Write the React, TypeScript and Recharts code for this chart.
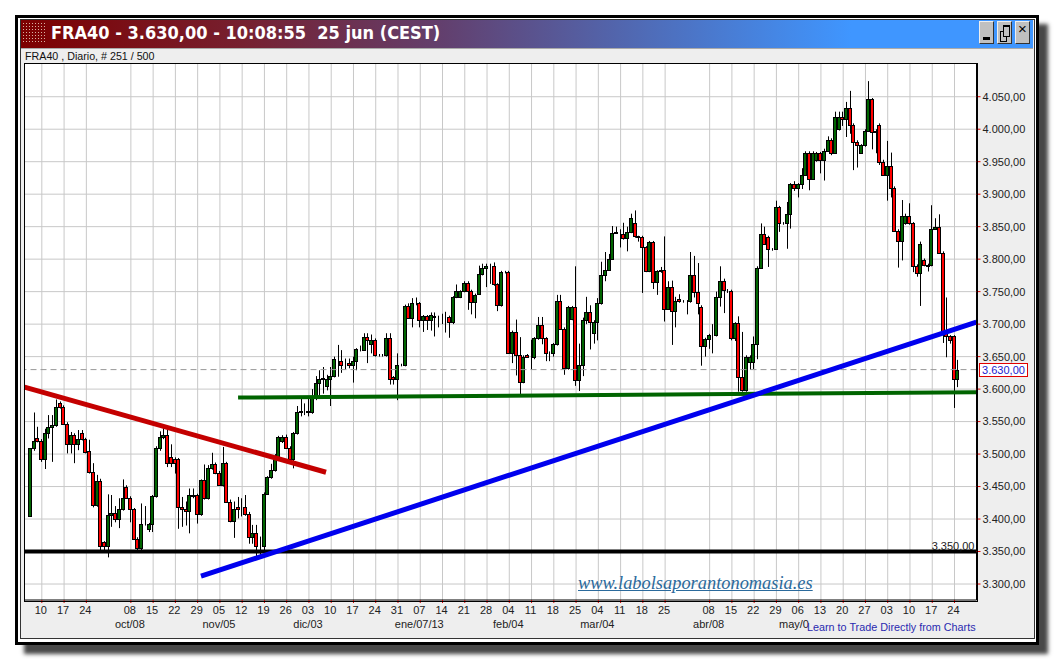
import { Bar, CartesianGrid, ComposedChart, ReferenceLine, XAxis, YAxis } from "recharts";

const opens = [
  3404, 3509, 3524, 3520, 3492, 3532, 3542, 3544, 3578, 3572,
  3547, 3515, 3530, 3516, 3533, 3523, 3504, 3473, 3421, 3458,
  3364, 3358, 3406, 3410, 3400, 3415, 3449, 3433, 3415, 3370,
  3356, 3392, 3385, 3392, 3435, 3510, 3526, 3530, 3496, 3492,
  3492, 3418, 3415, 3412, 3437, 3437, 3407, 3460, 3432, 3478,
  3485, 3471, 3453, 3486, 3427, 3397, 3418, 3418, 3418, 3407,
  3372, 3378, 3358, 3358, 3439, 3464, 3475, 3495, 3520, 3526,
  3510, 3492, 3532, 3564, 3566, 3566, 3564, 3589, 3609, 3615,
  3604, 3616, 3620, 3646, 3644, 3637, 3640, 3637, 3644, 3661,
  3660, 3680, 3669, 3676, 3652, 3652, 3652, 3679, 3618, 3616,
  3637, 3637, 3728, 3710, 3732, 3732, 3707, 3712, 3707, 3713,
  3711, 3711, 3711, 3711, 3704, 3741, 3741, 3751, 3764, 3751,
  3734, 3747, 3777, 3787, 3789, 3790, 3761, 3729, 3780, 3780,
  3656, 3688, 3652, 3611, 3652, 3650, 3649, 3678, 3698, 3678,
  3655, 3655, 3669, 3735, 3693, 3632, 3708, 3726, 3614, 3637,
  3707, 3718, 3687, 3704, 3732, 3775, 3784, 3801, 3841, 3841,
  3838, 3832, 3842, 3855, 3835, 3834, 3818, 3782, 3826, 3765,
  3781, 3784, 3724, 3757, 3720, 3738, 3735, 3735, 3735, 3775,
  3750, 3727, 3667, 3677, 3683, 3683, 3741, 3767, 3751, 3751,
  3678, 3701, 3618, 3598, 3642, 3642, 3669, 3787, 3838, 3834,
  3815, 3816, 3880, 3855, 3855, 3870, 3915, 3909, 3915, 3930,
  3964, 3924, 3953, 3963, 3952, 3967, 3984, 3964, 4000, 4019,
  4015, 4032, 4007, 3981, 3964, 3975, 3998, 4046, 3998, 4007,
  3949, 3930, 3944, 3910, 3844, 3828, 3855, 3867, 3855, 3790,
  3779, 3799, 3791, 3791, 3847, 3850, 3810, 3688, 3681, 3681,
  3615,
];

const closes = [
  3509, 3520, 3520, 3492, 3532, 3542, 3544, 3572, 3572, 3547,
  3515, 3530, 3516, 3523, 3523, 3503, 3473, 3421, 3458, 3358,
  3358, 3406, 3410, 3400, 3415, 3433, 3433, 3415, 3370, 3356,
  3392, 3392, 3392, 3435, 3510, 3526, 3530, 3486, 3486, 3486,
  3418, 3415, 3412, 3437, 3436, 3407, 3460, 3432, 3478, 3485,
  3471, 3453, 3486, 3427, 3397, 3416, 3416, 3418, 3407, 3372,
  3378, 3358, 3358, 3439, 3464, 3475, 3495, 3526, 3526, 3510,
  3492, 3532, 3564, 3566, 3566, 3564, 3588, 3609, 3615, 3617,
  3616, 3620, 3646, 3646, 3637, 3637, 3637, 3644, 3661, 3661,
  3680, 3676, 3676, 3652, 3652, 3652, 3679, 3616, 3616, 3637,
  3637, 3728, 3710, 3732, 3732, 3707, 3712, 3707, 3714, 3711,
  3711, 3711, 3711, 3704, 3741, 3751, 3751, 3764, 3751, 3734,
  3745, 3777, 3787, 3790, 3790, 3761, 3729, 3780, 3780, 3656,
  3688, 3652, 3611, 3650, 3650, 3650, 3678, 3698, 3678, 3655,
  3655, 3669, 3735, 3693, 3632, 3726, 3726, 3614, 3637, 3707,
  3718, 3704, 3704, 3732, 3775, 3784, 3801, 3841, 3842, 3840,
  3832, 3842, 3863, 3835, 3834, 3818, 3782, 3826, 3765, 3781,
  3784, 3724, 3757, 3720, 3735, 3735, 3735, 3735, 3775, 3750,
  3732, 3667, 3677, 3683, 3683, 3741, 3767, 3752, 3751, 3678,
  3701, 3618, 3598, 3650, 3650, 3669, 3787, 3838, 3824, 3815,
  3815, 3880, 3855, 3855, 3870, 3915, 3909, 3915, 3930, 3964,
  3924, 3963, 3963, 3952, 3967, 3984, 3964, 4019, 4019, 4015,
  4032, 4007, 3981, 3975, 3975, 3998, 4046, 3995, 3995, 3949,
  3930, 3944, 3910, 3844, 3828, 3867, 3867, 3855, 3790, 3779,
  3824, 3791, 3790, 3847, 3849, 3810, 3688, 3681, 3676, 3615,
  3630,
];

const highs = [
  3509, 3564, 3542, 3523, 3539, 3560, 3560, 3584, 3581, 3575,
  3549, 3534, 3532, 3537, 3537, 3525, 3522, 3486, 3468, 3462,
  3366, 3438, 3437, 3420, 3432, 3461, 3452, 3435, 3417, 3372,
  3424, 3420, 3394, 3437, 3512, 3535, 3541, 3541, 3515, 3495,
  3494, 3434, 3427, 3447, 3447, 3439, 3461, 3484, 3483, 3502,
  3487, 3474, 3511, 3488, 3430, 3427, 3434, 3432, 3437, 3411,
  3391, 3391, 3373, 3441, 3466, 3485, 3500, 3528, 3529, 3530,
  3512, 3534, 3574, 3586, 3578, 3585, 3600, 3620, 3629, 3634,
  3622, 3634, 3650, 3668, 3660, 3647, 3647, 3650, 3663, 3667,
  3686, 3686, 3684, 3678, 3654, 3654, 3686, 3686, 3620, 3655,
  3639, 3730, 3732, 3740, 3741, 3734, 3714, 3714, 3718, 3718,
  3713, 3716, 3719, 3713, 3743, 3761, 3752, 3766, 3766, 3753,
  3747, 3790, 3793, 3793, 3793, 3795, 3763, 3782, 3782, 3782,
  3690, 3707, 3680, 3652, 3654, 3676, 3680, 3711, 3711, 3680,
  3658, 3671, 3745, 3745, 3695, 3728, 3728, 3789, 3670, 3710,
  3742, 3729, 3706, 3740, 3796, 3811, 3808, 3851, 3850, 3846,
  3856, 3850, 3870, 3875, 3836, 3836, 3820, 3828, 3828, 3783,
  3788, 3835, 3766, 3767, 3742, 3746, 3737, 3737, 3811, 3805,
  3794, 3729, 3679, 3685, 3700, 3750, 3789, 3770, 3754, 3753,
  3703, 3712, 3688, 3652, 3652, 3681, 3789, 3855, 3850, 3836,
  3817, 3890, 3882, 3857, 3888, 3917, 3920, 3917, 3940, 3966,
  3966, 3966, 3965, 3965, 3970, 3989, 3986, 4027, 4027, 4027,
  4042, 4059, 4009, 3983, 3977, 4000, 4074, 4048, 4000, 4009,
  3953, 3982, 3964, 3912, 3846, 3891, 3870, 3886, 3857, 3792,
  3827, 3801, 3793, 3883, 3863, 3869, 3812, 3741, 3683, 3683,
  3645,
];

const lows = [
  3404, 3505, 3518, 3488, 3477, 3524, 3488, 3542, 3570, 3545,
  3501, 3501, 3486, 3506, 3521, 3501, 3470, 3418, 3419, 3350,
  3350, 3341, 3388, 3395, 3386, 3413, 3431, 3395, 3368, 3348,
  3348, 3390, 3380, 3380, 3433, 3505, 3523, 3480, 3480, 3470,
  3385, 3388, 3390, 3378, 3432, 3393, 3405, 3430, 3430, 3476,
  3469, 3451, 3450, 3425, 3395, 3371, 3401, 3404, 3405, 3362,
  3362, 3338, 3344, 3350, 3437, 3462, 3473, 3493, 3517, 3508,
  3490, 3478, 3530, 3558, 3560, 3558, 3562, 3583, 3590, 3593,
  3598, 3574, 3618, 3619, 3625, 3630, 3632, 3610, 3629, 3658,
  3659, 3640, 3655, 3650, 3650, 3650, 3650, 3607, 3607, 3583,
  3635, 3635, 3708, 3695, 3729, 3695, 3688, 3691, 3690, 3681,
  3695, 3700, 3687, 3679, 3700, 3740, 3740, 3749, 3722, 3715,
  3709, 3745, 3775, 3757, 3762, 3759, 3720, 3727, 3778, 3654,
  3640, 3621, 3588, 3609, 3648, 3630, 3646, 3676, 3669, 3643,
  3643, 3650, 3667, 3691, 3622, 3630, 3706, 3605, 3597, 3620,
  3700, 3661, 3670, 3675, 3730, 3766, 3782, 3799, 3839, 3818,
  3830, 3812, 3840, 3833, 3827, 3748, 3780, 3780, 3754, 3745,
  3779, 3704, 3722, 3668, 3695, 3733, 3733, 3715, 3733, 3741,
  3715, 3636, 3650, 3662, 3655, 3681, 3727, 3717, 3748, 3675,
  3674, 3596, 3596, 3596, 3630, 3631, 3646, 3785, 3822, 3788,
  3813, 3815, 3842, 3853, 3816, 3847, 3905, 3895, 3908, 3928,
  3906, 3922, 3950, 3932, 3921, 3965, 3960, 3962, 3998, 4005,
  3988, 3993, 3937, 3941, 3962, 3973, 3996, 3969, 3963, 3945,
  3928, 3890, 3895, 3842, 3787, 3798, 3853, 3853, 3780, 3773,
  3728, 3789, 3781, 3789, 3845, 3808, 3671, 3649, 3670, 3571,
  3603,
];

const candles = opens.map((open, index) => ({
  index,
  open,
  close: closes[index],
  high: highs[index],
  low: lows[index],
}));

// gaps in the date axis: one week is missing after 24 and after 25
const dayTicks = [
  3, 9, 15, 27, 33, 39, 45, 51, 57, 63, 69, 75, 81, 87, 93, 99, 105, 111, 117, 123, 129,
  135, 141, 147, 153, 159, 165, 171, 183, 189, 195, 201, 207, 213, 219, 225, 231, 237, 243, 249,
];
const dayLabels = [
  "10", "17", "24", "08", "15", "22", "29", "05", "12", "19", "26", "03", "10", "17", "24", "31",
  "07", "14", "21", "28", "04", "11", "18", "25", "04", "11", "18", "25", "08", "15", "22", "29",
  "06", "13", "20", "27", "03", "10", "17", "24",
];
const monthTicks = [27, 51, 75, 105, 129, 153, 183, 206];
const monthLabels = ["oct/08", "nov/05", "dic/03", "ene/07/13", "feb/04", "mar/04", "abr/08", "may/0"];
const priceTicks = [
  3300, 3350, 3400, 3450, 3500, 3550, 3600, 3650, 3700, 3750, 3800, 3850, 3900, 3950, 4000, 4050,
];

const lastPrice = 3630;
const supportPrice = 3350;
const redTrend = [{ x: -1.67, y: 3603 }, { x: 79.6, y: 3472 }];
const greenTrend = [{ x: 55.9, y: 3587 }, { x: 254.9, y: 3595 }];
const blueTrend = [{ x: 45.9, y: 3312 }, { x: 254.9, y: 3703 }];

const textFont = '"Liberation Sans", Arial, sans-serif';

function formatPrice(value: number) {
  const text = String(Math.round(value));
  return `${text[0]}.${text.slice(1)},00`;
}

function Candle(props: any) {
  const { x, width, y, height, payload } = props;
  const { open, close, high, low } = payload;
  const perUnit = height / (high - low || 1);
  const mid = Math.floor(x + width / 2) + 0.5;
  const bodyTop = Math.round(y + (high - Math.max(open, close)) * perUnit) + 0.5;
  const bodyBottom = Math.round(y + (high - Math.min(open, close)) * perUnit) + 0.5;
  return (
    <g>
      <line x1={mid} x2={mid} y1={y} y2={y + height} stroke="#000" strokeWidth={1} />
      <rect
        x={mid - 2}
        y={bodyTop}
        width={3}
        height={bodyBottom - bodyTop}
        fill={close >= open ? "#006400" : "#ff0000"}
        stroke="#000"
        strokeWidth={1}
      />
    </g>
  );
}

const windowButton = {
  position: "absolute" as const,
  top: 21,
  width: 15,
  height: 23,
  background: "#c0c0c0",
  borderTop: "1px solid #eee",
  borderLeft: "1px solid #eee",
  borderRight: "1px solid #333",
  borderBottom: "1px solid #333",
  boxSizing: "border-box" as const,
  color: "#000",
  fontFamily: textFont,
  fontSize: 15,
  lineHeight: "14px",
  textAlign: "center" as const,
};

export default function App() {
  return (
    <div style={{ position: "absolute", left: 0, top: 0, width: 1055, height: 659, background: "#fff", overflow: "hidden" }}>
      {/* window frame */}
      <div
        style={{
          position: "absolute",
          left: 15,
          top: 15,
          width: 1024,
          height: 630,
          boxSizing: "border-box",
          border: "3px solid #000",
          boxShadow: "9px 9px 4px rgba(40,40,40,0.85)",
          background: "#fff",
        }}
      />
      <div
        style={{
          position: "absolute",
          left: 20,
          top: 19,
          width: 1015,
          height: 620,
          boxSizing: "border-box",
          border: "1px solid #333",
          background: "#eeeeee",
        }}
      />
      <div
        style={{
          position: "absolute",
          left: 21,
          top: 20,
          width: 1012,
          height: 28,
          background: "linear-gradient(90deg, #7d0000 0%, #762030 22%, #62406f 42%, #4f6cb8 62%, #3f96ff 82%)",
          borderBottom: "1px solid #aaa",
        }}
      />
      <div
        style={{
          position: "absolute",
          left: 22,
          top: 22,
          width: 25,
          height: 22,
          backgroundImage: "radial-gradient(circle, #d8b0a0 1px, transparent 1px)",
          backgroundSize: "3px 3px",
        }}
      />
      <div
        style={{
          position: "absolute",
          left: 51,
          top: 21,
          color: "#fff",
          fontFamily: '"DejaVu Sans Condensed", "DejaVu Sans", sans-serif',
          fontWeight: 700,
          fontSize: 18,
          lineHeight: "24px",
          whiteSpace: "pre",
        }}
      >
        {"FRA40 - 3.630,00 - 10:08:55  25 jun (CEST)"}
      </div>
      <div style={{ ...windowButton, left: 979 }}>
        <div style={{ position: "absolute", left: 3, top: 15, width: 7, height: 3, background: "#000" }} />
      </div>
      <div style={{ ...windowButton, left: 997 }}>
        <div style={{ position: "absolute", left: 2, top: 9, width: 5, height: 9, border: "1px solid #000", background: "#c0c0c0" }} />
        <div style={{ position: "absolute", left: 5, top: 3, width: 5, height: 9, border: "1px solid #000", borderTopWidth: 2, background: "#c0c0c0" }} />
      </div>
      <div style={{ ...windowButton, left: 1015 }}>×</div>
      <div
        style={{
          position: "absolute",
          left: 25,
          top: 50,
          fontFamily: textFont,
          fontSize: 10.7,
          lineHeight: "13px",
          color: "#111",
          whiteSpace: "pre",
        }}
      >
        FRA40 , Diario, # 251 / 500
      </div>

      <div style={{ position: "absolute", left: 0, top: 0 }}>
        <ComposedChart
          width={1055}
          height={659}
          data={candles}
          margin={{ top: 63, right: 8.5, bottom: 24, left: 24.5 }}
        >
          <CartesianGrid
            fill="#fff"
            stroke="#c8c8c8"
            strokeWidth={1}
            horizontalValues={priceTicks}
            verticalValues={dayTicks}
          />
          <XAxis
            dataKey="index"
            type="number"
            scale="linear"
            domain={[-1.67, 254.93]}
            allowDataOverflow
            ticks={dayTicks}
            interval={0}
            height={20}
            axisLine={{ stroke: "#000" }}
            tickLine={{ stroke: "#e00000" }}
            tickSize={3}
            tickMargin={3}
            tickFormatter={(value: number) => dayLabels[dayTicks.indexOf(value)]}
            tick={{ fontSize: 11, fontFamily: textFont, fill: "#222", dx: -1 }}
          />
          <XAxis
            xAxisId="months"
            dataKey="index"
            type="number"
            scale="linear"
            domain={[-1.67, 254.93]}
            allowDataOverflow
            ticks={monthTicks}
            interval={0}
            height={15}
            axisLine={false}
            tickLine={false}
            tickMargin={0}
            tickSize={0}
            tickFormatter={(value: number) => monthLabels[monthTicks.indexOf(value)]}
            tick={{ fontSize: 11, fontFamily: textFont, fill: "#222", dx: -1 }}
          />
          <YAxis
            orientation="right"
            type="number"
            domain={[3275.4, 4101.9]}
            allowDataOverflow
            ticks={priceTicks}
            interval={0}
            width={70}
            axisLine={{ stroke: "#000" }}
            tickLine={{ stroke: "#e00000" }}
            tickSize={4}
            tickFormatter={formatPrice}
            tick={{ fontSize: 11, fontFamily: textFont, fill: "#222", textAnchor: "start" }}
          />
          <ReferenceLine y={lastPrice} stroke="#999" strokeDasharray="6 4" />
          <Bar
            dataKey={(d: any) => [d.low, d.high]}
            barSize={3}
            shape={Candle}
            isAnimationActive={false}
          />
          <ReferenceLine
            y={supportPrice}
            stroke="#000"
            strokeWidth={4}
            label={{
              value: formatPrice(supportPrice),
              position: "insideBottomRight",
              fontSize: 11,
              fontFamily: textFont,
              fill: "#222",
              offset: 2,
            }}
          />
          <ReferenceLine segment={redTrend} stroke="#c40000" strokeWidth={5} />
          <ReferenceLine segment={greenTrend} stroke="#006400" strokeWidth={4} />
          <ReferenceLine segment={blueTrend} stroke="#0000ee" strokeWidth={5} />
        </ComposedChart>
      </div>

      {/* plot box */}
      <div
        style={{
          position: "absolute",
          left: 24,
          top: 63,
          width: 952,
          height: 537,
          border: "1px solid #000",
          pointerEvents: "none",
        }}
      />
      <div
        style={{
          position: "absolute",
          left: 979,
          top: 363,
          width: 47,
          height: 12,
          border: "1px solid #e00000",
          background: "#fff",
          fontFamily: textFont,
          fontSize: 11,
          lineHeight: "12px",
          color: "#2020d0",
          textAlign: "center",
        }}
      >
        3.630,00
      </div>
      <div
        style={{
          position: "absolute",
          left: 578,
          top: 571,
          fontFamily: '"Liberation Serif", serif',
          fontStyle: "italic",
          fontSize: 18.4,
          lineHeight: "24px",
          color: "#2b6a9c",
          textDecoration: "underline",
          whiteSpace: "pre",
        }}
      >
        www.labolsaporantonomasia.es
      </div>
      <div
        style={{
          position: "absolute",
          left: 807,
          top: 620,
          fontFamily: textFont,
          fontSize: 10.8,
          lineHeight: "14px",
          color: "#2a2ab0",
          whiteSpace: "pre",
        }}
      >
        Learn to Trade Directly from Charts
      </div>
    </div>
  );
}
